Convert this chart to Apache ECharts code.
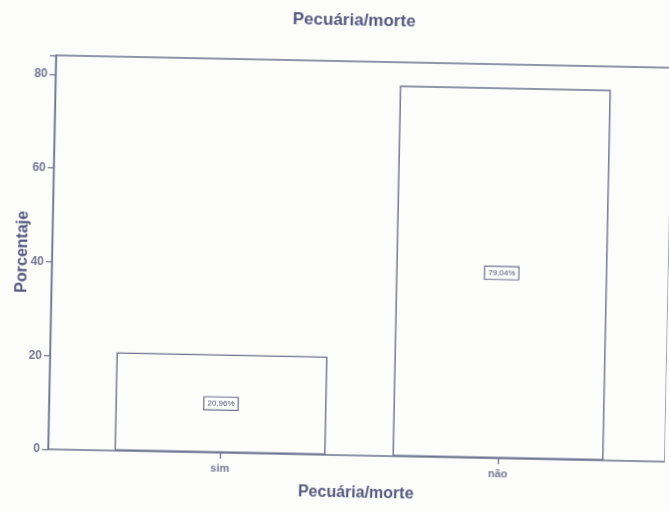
<!DOCTYPE html>
<html>
<head>
<meta charset="utf-8">
<script src="https://cdn.jsdelivr.net/npm/echarts@6/dist/echarts.min.js"></script>
<style>
  html, body { margin: 0; padding: 0; background: #fcfcfa; overflow: hidden; }
  #chart { width: 669px; height: 511px; transform: rotate(1.15deg); transform-origin: 50% 50%; }
</style>
</head>
<body>
<div id="chart"></div>
<script>
// Pecuária/morte: percentage of answers per category
const categories = ['sim', 'não'];
const percentages = [20.96, 79.04];
const yTicks = { min: 0, max: 84, interval: 20 };

const lineColor = '#6f728f';
const textColor = '#55597f';
const tickTextColor = '#777a94';

const chart = echarts.init(document.getElementById('chart'), null, { renderer: 'canvas' });

chart.setOption({
  backgroundColor: '#fcfcfa',
  animation: false,
  title: {
    text: 'Pecuária/morte',
    left: 283,
    top: 7,
    textStyle: { fontFamily: 'Liberation Sans, Arial', fontWeight: 'bold', fontSize: 17, color: textColor }
  },
  grid: [
    // outer frame with the value axis
    { left: 52, top: 61, width: 620, height: 394, show: true, borderColor: lineColor, borderWidth: 1.3, backgroundColor: 'transparent' },
    // inner band area where the two bars sit
    { left: 85, top: 61, width: 556, height: 394 }
  ],
  xAxis: [
    {
      gridIndex: 0, type: 'category', data: [''],
      axisLine: { show: false }, axisTick: { show: false }, axisLabel: { show: false },
      name: 'Pecuária/morte', nameLocation: 'middle', nameGap: 30,
      nameTextStyle: { fontFamily: 'Liberation Sans, Arial', fontWeight: 'bold', fontSize: 16, color: textColor }
    },
    {
      gridIndex: 1, type: 'category', data: categories,
      axisLine: { show: false },
      axisTick: { show: true, alignWithLabel: true, length: 6, lineStyle: { color: lineColor, width: 1.2 } },
      axisLabel: { margin: 10, fontFamily: 'Liberation Sans, Arial', fontWeight: 'bold', fontSize: 11, color: tickTextColor }
    }
  ],
  yAxis: [
    {
      gridIndex: 0, type: 'value', min: yTicks.min, max: yTicks.max, interval: yTicks.interval,
      axisLine: { show: true, lineStyle: { color: lineColor, width: 1.3 } },
      axisTick: { show: true, length: 6, lineStyle: { color: lineColor, width: 1.2 } },
      axisLabel: {
        margin: 8, fontFamily: 'Liberation Sans, Arial', fontWeight: 'bold', fontSize: 12, color: tickTextColor,
        formatter: v => (v % yTicks.interval === 0 ? String(v) : '')
      },
      splitLine: { show: false },
      name: 'Porcentaje', nameLocation: 'middle', nameGap: 21, nameRotate: 90, nameMoveOverlap: false,
      nameTextStyle: { fontFamily: 'Liberation Sans, Arial', fontWeight: 'bold', fontSize: 16, color: textColor }
    },
    {
      gridIndex: 1, type: 'value', min: yTicks.min, max: yTicks.max, interval: yTicks.interval, show: false,
      splitLine: { show: false }
    }
  ],
  series: [
    {
      type: 'bar',
      xAxisIndex: 1, yAxisIndex: 1,
      data: percentages,
      barWidth: 211,
      itemStyle: { color: '#fdfdfb', borderColor: lineColor, borderWidth: 1.4 },
      label: {
        show: true, position: 'inside',
        formatter: p => p.value.toFixed(2).replace('.', ',') + '%',
        fontFamily: 'Liberation Sans, Arial', fontSize: 8, color: '#4b4f75',
        backgroundColor: '#fdfdfb', borderColor: lineColor, borderWidth: 1.2, padding: [2, 3]
      }
    }
  ]
});
</script>
</body>
</html>
